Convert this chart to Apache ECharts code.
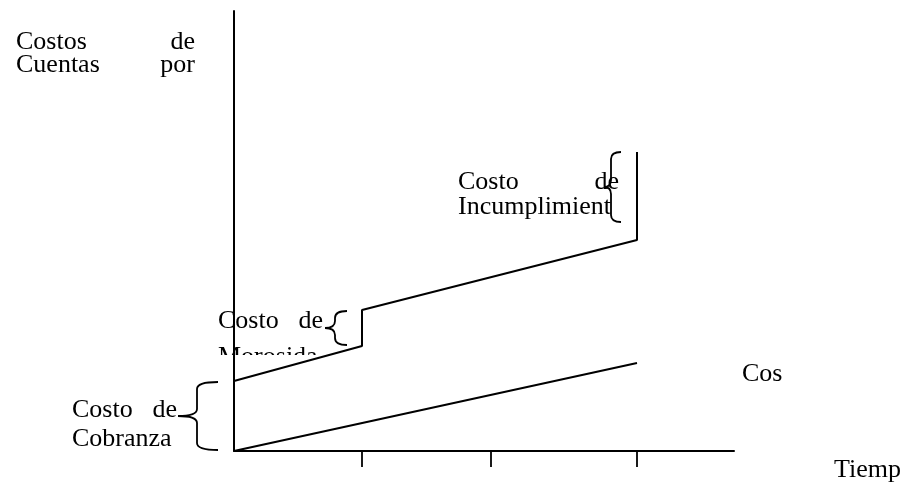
<!DOCTYPE html>
<html>
<head>
<meta charset="utf-8">
<script src="https://cdn.jsdelivr.net/npm/echarts@6/dist/echarts.min.js"></script>
<style>
html,body{margin:0;padding:0;background:#fff;}
#c{width:909px;height:491px;}
</style>
</head>
<body>
<div id="c"></div>
<script>
// ---- data (schematic units) ----
const timeTicks = [12.8, 25.7, 40.3];
const cobranzaLine = [[0, 0], [40.3, 8.8]];
const totalLine = [[0, 7.0], [12.8, 10.5], [12.8, 14.1], [40.3, 21.1], [40.3, 29.9]];
// braces: [x, yLow, yHigh]
const braces = [[0, 0.1, 6.9], [12.8, 10.6, 14.0], [40.3, 22.9, 29.9]];

// ---- styling ----
const braceGeom = [
  {arm: 16, spine: 37, tip: 56},
  {arm: 15, spine: 27, tip: 37},
  {arm: 16, spine: 26, tip: 33}
];
const FONT = 'Liberation Serif';
const FS = 26;
function txt(s, x, baseline, align) {
  return {
    type: 'text', z: 1, x: x, y: baseline - 5,
    style: {text: s, font: FS + 'px "' + FONT + '"', fill: '#000', align: align || 'left', verticalAlign: 'middle'}
  };
}

const chart = echarts.init(document.getElementById('c'));
chart.setOption({
  animation: false,
  backgroundColor: '#fff',
  grid: {left: 234, right: 175, top: 11, bottom: 40},
  xAxis: {
    type: 'value', min: 0, max: 50, z: 10,
    axisLine: {show: true, lineStyle: {color: '#000', width: 2}},
    axisTick: {show: true, customValues: timeTicks, length: 16, inside: false, lineStyle: {color: '#000', width: 1.8}},
    axisLabel: {show: false},
    splitLine: {show: false}
  },
  yAxis: {
    type: 'value', min: 0, max: 44, z: 10,
    axisLine: {show: true, lineStyle: {color: '#000', width: 2}},
    axisTick: {show: false},
    axisLabel: {show: false},
    splitLine: {show: false}
  },
  series: [
    {type: 'line', data: cobranzaLine, symbol: 'none', z: 10, lineStyle: {color: '#000', width: 2}},
    {type: 'line', data: totalLine, symbol: 'none', z: 10, lineStyle: {color: '#000', width: 2}},
    {
      type: 'custom', z: 10, data: braces,
      encode: {x: 0, y: [1, 2]},
      renderItem: function (params, api) {
        const x = api.value(0), y1 = api.value(1), y2 = api.value(2);
        const pT = api.coord([x, y2]), pB = api.coord([x, y1]);
        const g = braceGeom[params.dataIndex];
        const xr = pT[0] - g.arm, xs = pT[0] - g.spine, xt = pT[0] - g.tip;
        const yt = pT[1], yb = pB[1], ym = (yt + yb) / 2;
        const r = Math.min(7, (yb - yt) / 4);
        const d = 'M' + xr + ' ' + yt + ' Q' + xs + ' ' + yt + ' ' + xs + ' ' + (yt + r) +
          ' L' + xs + ' ' + (ym - r) + ' Q' + xs + ' ' + ym + ' ' + xt + ' ' + ym +
          ' Q' + xs + ' ' + ym + ' ' + xs + ' ' + (ym + r) +
          ' L' + xs + ' ' + (yb - r) + ' Q' + xs + ' ' + yb + ' ' + xr + ' ' + yb;
        return {type: 'path', shape: {pathData: d}, style: {stroke: '#000', fill: null, lineWidth: 1.8}};
      }
    }
  ],
  graphic: [
    txt('Costos', 16, 47), txt('de', 195, 47, 'right'),
    txt('Cuentas', 16, 70), txt('por', 195, 70, 'right'),
    txt('Costo', 458, 187), txt('de', 619, 187, 'right'),
    txt('Incumplimient', 458, 212),
    txt('Costo', 218, 326), txt('de', 323, 326, 'right'),
    txt('Morosida', 218, 362),
    {type: 'rect', z: 2, shape: {x: 210, y: 355, width: 130, height: 20}, style: {fill: '#fff'}},
    txt('Costo', 72, 415), txt('de', 177, 415, 'right'),
    txt('Cobranza', 72, 444),
    txt('Cos', 742, 379),
    txt('Tiemp', 834, 475)
  ]
});
</script>
</body>
</html>
